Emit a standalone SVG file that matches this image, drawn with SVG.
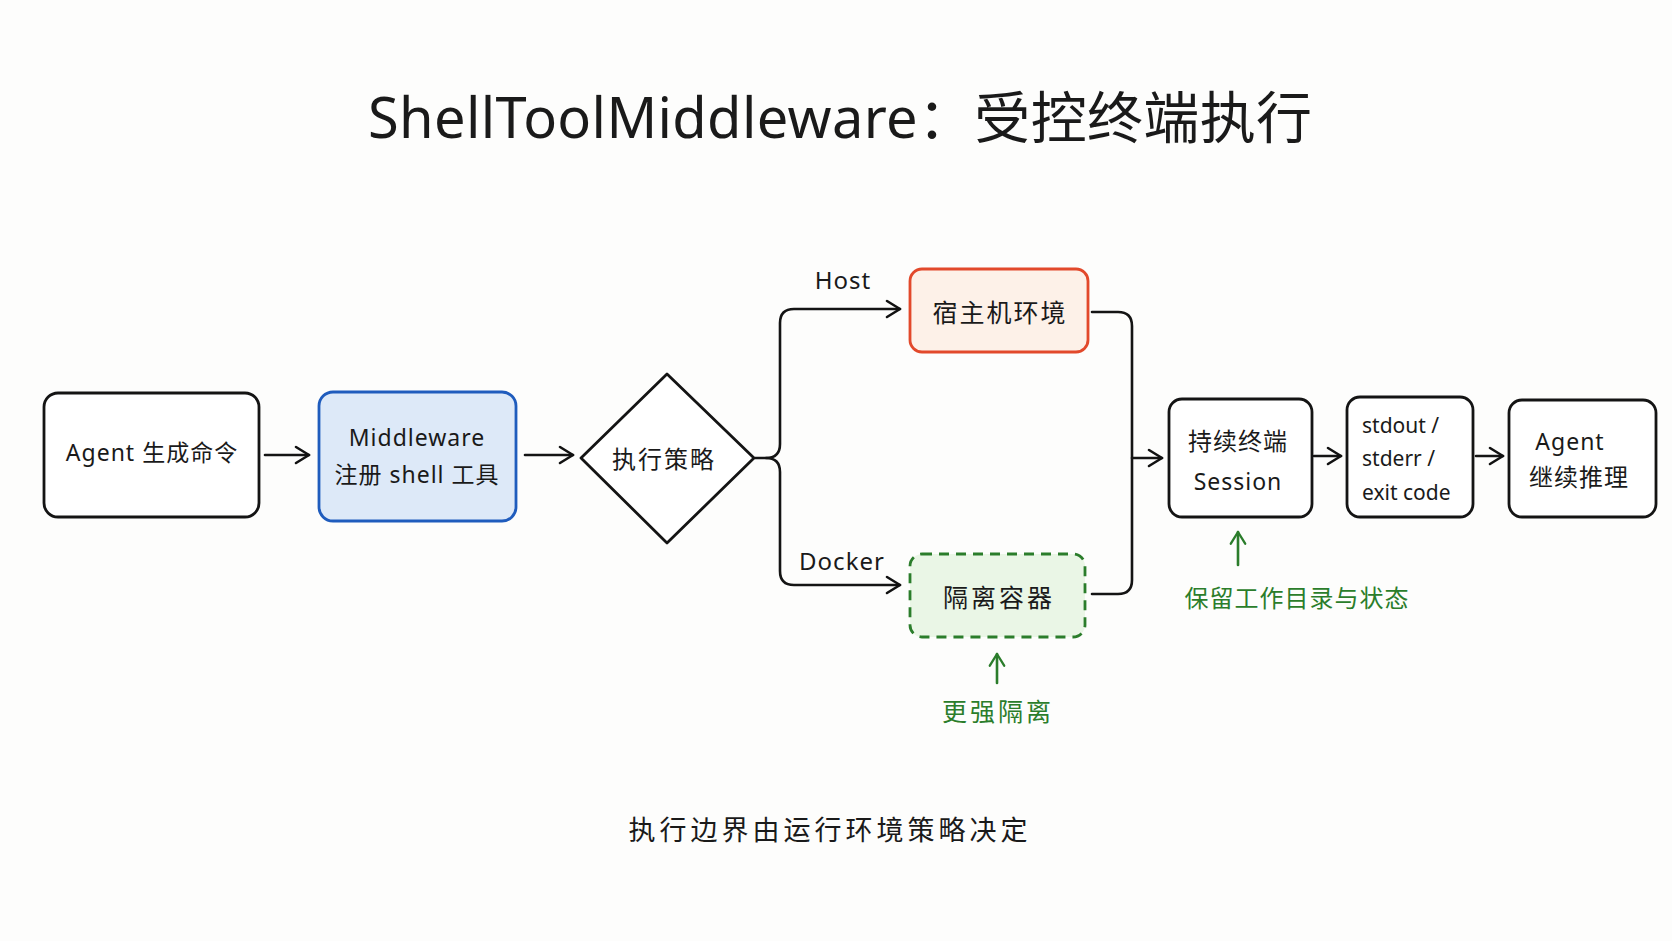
<svg xmlns="http://www.w3.org/2000/svg" width="1672" height="941" viewBox="0 0 1672 941">
<defs>
<marker id="ah" viewBox="0 0 20 20" refX="17" refY="10" markerWidth="20" markerHeight="20" markerUnits="userSpaceOnUse" orient="auto">
<path d="M4 2 L17 10 L4 18" fill="none" stroke="#111" stroke-width="2.6" stroke-linecap="round" stroke-linejoin="round"/>
</marker>
<marker id="ahg" viewBox="0 0 20 20" refX="17" refY="10" markerWidth="18" markerHeight="18" markerUnits="userSpaceOnUse" orient="auto">
<path d="M4 2 L17 10 L4 18" fill="none" stroke="#2b7d2b" stroke-width="2.6" stroke-linecap="round" stroke-linejoin="round"/>
</marker>
</defs>
<style>
text{font-family:"Noto Sans","Noto Sans CJK SC",sans-serif;fill:#1a1a1a}
.t{font-size:23px;text-anchor:middle;dominant-baseline:central;letter-spacing:1px}
.box{fill:#fff;stroke:#141414;stroke-width:2.8}
.ln{fill:none;stroke:#141414;stroke-width:2.6;stroke-linecap:round;stroke-linejoin:round}
.g{fill:#2b7d2b}
.gl{fill:none;stroke:#2b7d2b;stroke-width:2.6;stroke-linecap:round}
</style>
<rect width="1672" height="941" fill="#fdfdfc"/>
<text x="368" y="138" font-size="56" textLength="944" lengthAdjust="spacing">ShellToolMiddleware：受控终端执行</text>

<g id="agent">
<rect class="box" x="44" y="393" width="215" height="124" rx="14"/>
<text class="t" x="152" y="452">Agent 生成命令</text>
</g>
<g id="middleware">
<rect x="319" y="392" width="197" height="129" rx="14" fill="#dde9f8" stroke="#1f5cbd" stroke-width="2.8"/>
<text class="t" x="417" y="437">Middleware</text>
<text class="t" x="417" y="474">注册 shell 工具</text>
</g>
<g id="policy">
<path class="box" d="M667 374 L754 458 L667 543 L581 458 Z" stroke-linejoin="round"/>
<text class="t" x="664" y="458" style="font-size:24px;letter-spacing:2px">执行策略</text>
</g>
<g id="host">
<rect x="910" y="269" width="178" height="83" rx="12" fill="#fdf1e8" stroke="#e2492b" stroke-width="2.8"/>
<text class="t" x="1000" y="312" style="font-size:25px;letter-spacing:2px">宿主机环境</text>
</g>
<g id="docker">
<rect x="910" y="554" width="175" height="83" rx="12" fill="#eaf6e6" stroke="#2b7d2b" stroke-width="2.8" stroke-dasharray="10 7"/>
<text class="t" x="999" y="597" style="font-size:25px;letter-spacing:3px">隔离容器</text>
</g>
<g id="session">
<rect class="box" x="1169" y="399" width="143" height="118" rx="13"/>
<text class="t" x="1238" y="440" style="font-size:24px;letter-spacing:1px">持续终端</text>
<text class="t" x="1238" y="481">Session</text>
</g>
<g id="output">
<rect class="box" x="1347" y="397" width="126" height="120" rx="13"/>
<text x="1362" y="425" font-size="21" dominant-baseline="central">stdout /</text>
<text x="1362" y="458" font-size="21" dominant-baseline="central">stderr /</text>
<text x="1362" y="492" font-size="21" dominant-baseline="central">exit code</text>
</g>
<g id="agent2">
<rect class="box" x="1509" y="400" width="147" height="117" rx="13"/>
<text class="t" x="1570" y="441">Agent</text>
<text class="t" x="1579" y="476" style="font-size:24px;letter-spacing:1px">继续推理</text>
</g>

<g id="connectors">
<path class="ln" d="M265 455 H309" marker-end="url(#ah)"/>
<path class="ln" d="M525 455 H573" marker-end="url(#ah)"/>
<path class="ln" d="M755 458 H766 Q780 458 780 444 V323 Q780 309 794 309 H900" marker-end="url(#ah)"/>
<path class="ln" d="M766 458 Q780 458 780 472 V571 Q780 585 794 585 H900" marker-end="url(#ah)"/>
<path class="ln" d="M1092 312 H1118 Q1132 312 1132 326 V580 Q1132 594 1118 594 H1092"/>
<path class="ln" d="M1132 458 H1162" marker-end="url(#ah)"/>
<path class="ln" d="M1314 456 H1341" marker-end="url(#ah)"/>
<path class="ln" d="M1476 456 H1503" marker-end="url(#ah)"/>
<path class="gl" d="M1238 565 V532" marker-end="url(#ahg)"/>
<path class="gl" d="M997 683 V654" marker-end="url(#ahg)"/>
</g>

<text class="t" x="843" y="279" style="font-size:24px">Host</text>
<text class="t" x="842" y="560" style="font-size:24px">Docker</text>
<text class="t g" x="1297" y="597" style="font-size:24px;letter-spacing:1px">保留工作目录与状态</text>
<text class="t g" x="998" y="711" style="font-size:25px;letter-spacing:3px">更强隔离</text>
<text class="t" x="830" y="829" style="font-size:27px;letter-spacing:4px">执行边界由运行环境策略决定</text>
</svg>
